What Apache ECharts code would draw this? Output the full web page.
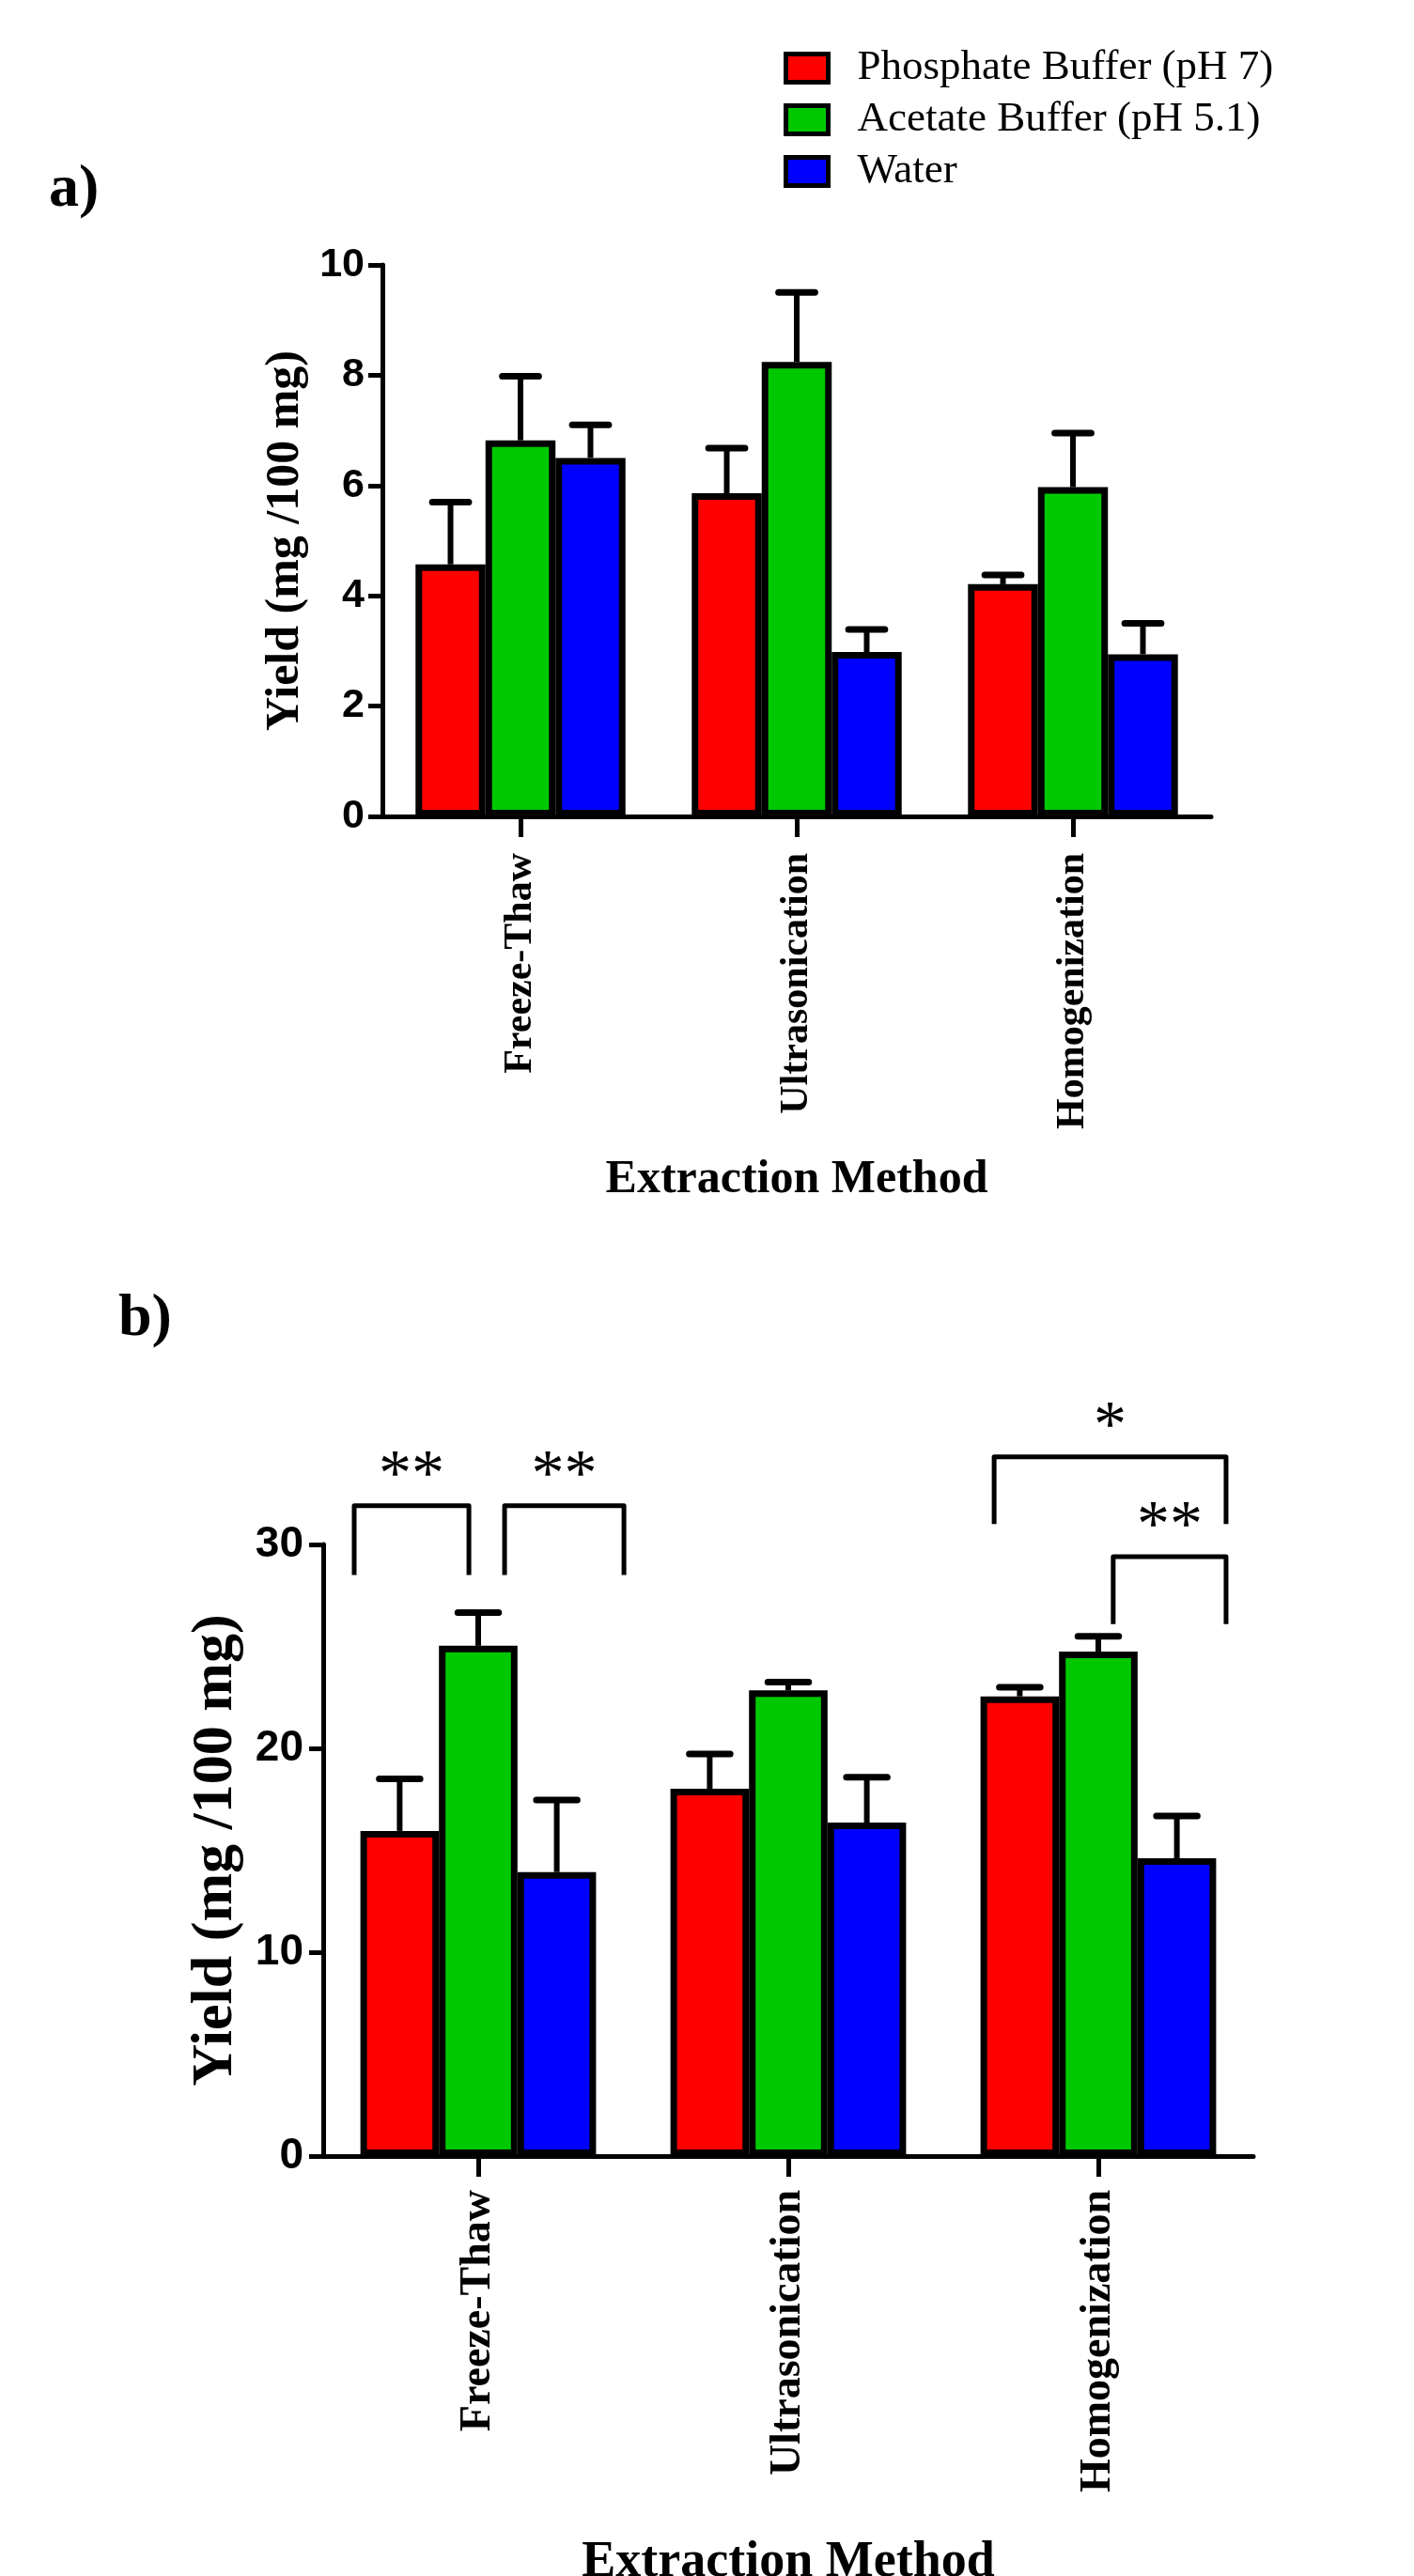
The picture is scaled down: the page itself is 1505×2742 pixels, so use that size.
<!DOCTYPE html>
<html>
<head>
<meta charset="utf-8">
<script src="https://cdn.jsdelivr.net/npm/echarts@6/dist/echarts.min.js"></script>
<style>
html,body{margin:0;padding:0;background:#fff;}
#chart{width:1505px;height:2742px;}
</style>
</head>
<body>
<div id="chart"></div>
<script>
// ---------- data ----------
const categories = ['Freeze-Thaw', 'Ultrasonication', 'Homogenization'];
const seriesNames = ['Phosphate Buffer (pH 7)', 'Acetate Buffer (pH 5.1)', 'Water'];

// panel a) means and upper error (SD)
const aPhosphate = [4.57, 5.86, 4.21];
const aAcetate = [6.82, 8.24, 5.97];
const aWater = [6.50, 2.98, 2.94];
const aPhosphateErr = [1.13, 0.82, 0.17];
const aAcetateErr = [1.16, 1.26, 0.98];
const aWaterErr = [0.60, 0.41, 0.56];

// panel b) means and upper error (SD)
const bPhosphate = [15.95, 18.02, 22.55];
const bAcetate = [25.03, 22.84, 24.75];
const bWater = [13.93, 16.36, 14.61];
const bPhosphateErr = [2.55, 1.70, 0.45];
const bAcetateErr = [1.63, 0.41, 0.75];
const bWaterErr = [3.53, 2.22, 2.07];

// y-axis ticks
const aTicks = {min: 0, max: 10, interval: 2};
const bTicks = {min: 0, max: 30, interval: 10};

// significance brackets in panel b (x in category units, y in data units)
const bracketX1 = [-0.40, 0.085, 1.664, 2.048];
const bracketX2 = [-0.03, 0.47, 2.412, 2.412];
const bracketTop = [31.9, 31.9, 34.3, 29.4];
const bracketBottom = [28.5, 28.5, 31.0, 26.1];
const bracketLabels = ['**', '**', '*', '**'];

// ---------- styling ----------
const colors = ['#ff0000', '#00c800', '#0000ff'];
const GAP = 0.24;
const serif = 'Liberation Serif';
const sans = 'Liberation Sans';

function barSeries(name, color, values, xIdx, yIdx) {
  return {
    name: name, type: 'bar', xAxisIndex: xIdx, yAxisIndex: yIdx,
    data: values, barGap: '0%', barCategoryGap: (GAP * 100) + '%',
    itemStyle: {color: color, borderColor: '#000', borderWidth: 7},
    z: 3, animation: false
  };
}

function errSeries(k, values, errs, xIdx, yIdx) {
  const data = values.map((v, i) => [i, v, v + errs[i]]);
  return {
    type: 'custom', xAxisIndex: xIdx, yAxisIndex: yIdx, data: data, z: 2,
    clip: false, animation: false, silent: true,
    renderItem: function (params, api) {
      const band = api.size([1, 0])[0];
      const bw = band * (1 - GAP) / 3;
      const base = api.coord([api.value(0), api.value(1)]);
      const top = api.coord([api.value(0), api.value(2)]);
      const x = base[0] + (k - 1) * bw;
      const cw = bw * 0.52;
      return {
        type: 'group', children: [
          {type: 'line', shape: {x1: x, y1: base[1], x2: x, y2: top[1]},
           style: {stroke: '#000', lineWidth: 6}},
          {type: 'line', shape: {x1: x - cw / 2, y1: top[1], x2: x + cw / 2, y2: top[1]},
           style: {stroke: '#000', lineWidth: 7, lineCap: 'round'}}
        ]
      };
    }
  };
}

function catAxis(gridIndex, fontSize, margin, nameGap, nameSize) {
  return {
    type: 'category', gridIndex: gridIndex, data: categories,
    boundaryGap: true,
    axisLine: {show: true, onZero: false, lineStyle: {color: '#000', width: 5}},
    axisTick: {show: true, alignWithLabel: true, length: 22, lineStyle: {color: '#000', width: 5}},
    axisLabel: {rotate: 90, interval: 0, margin: margin, color: '#000',
      fontFamily: serif, fontWeight: 'bold', fontSize: fontSize},
    splitLine: {show: false},
    name: 'Extraction Method', nameLocation: 'middle', nameGap: nameGap,
    nameTextStyle: {color: '#000', fontFamily: serif, fontWeight: 'bold', fontSize: nameSize}
  };
}
function hiddenX(gridIndex) {
  return {type: 'value', gridIndex: gridIndex, min: -0.5, max: 2.5, show: false,
    axisLine: {onZero: false}, splitLine: {show: false}};
}
function valAxis(gridIndex, t, labelSize, margin, nameGap, nameSize) {
  return {
    type: 'value', gridIndex: gridIndex, min: t.min, max: t.max, interval: t.interval,
    axisLine: {show: true, onZero: false, lineStyle: {color: '#000', width: 5}},
    axisTick: {show: true, length: 15, lineStyle: {color: '#000', width: 5}},
    axisLabel: {margin: margin, color: '#000', fontFamily: sans, fontWeight: 'bold', fontSize: labelSize},
    splitLine: {show: false},
    name: 'Yield (mg /100 mg)', nameLocation: 'middle', nameGap: nameGap,
    nameTextStyle: {color: '#000', fontFamily: serif, fontWeight: 'bold', fontSize: nameSize}
  };
}

const bracketData = bracketX1.map((x, i) => [x, bracketX2[i], bracketTop[i], bracketBottom[i]]);

const option = {
  backgroundColor: '#fff',
  animation: false,
  legend: {
    orient: 'vertical', left: 829, top: 45,
    data: seriesNames, icon: 'rect', itemWidth: 45, itemHeight: 30, itemGap: 10,
    itemStyle: {borderColor: '#000', borderWidth: 5},
    textStyle: {color: '#000', fontFamily: serif, fontSize: 45, lineHeight: 42, padding: [0, 0, 0, 26]},
    selectedMode: false
  },
  grid: [
    {left: 407, top: 282, width: 882, height: 587, outerBoundsMode: 'none', containLabel: false},
    {left: 344, top: 1644, width: 990, height: 651, outerBoundsMode: 'none', containLabel: false}
  ],
  xAxis: [
    catAxis(0, 42, 39, 362, 50),
    hiddenX(0),
    catAxis(1, 46, 36, 406, 54),
    hiddenX(1)
  ],
  yAxis: [
    valAxis(0, aTicks, 43, 19, 68, 50),
    valAxis(1, bTicks, 46, 21, 82, 62)
  ],
  graphic: [
    {type: 'text', left: 52, top: 170, style: {text: 'a)', fontFamily: serif, fontWeight: 'bold', fontSize: 64, fill: '#000'}},
    {type: 'text', left: 126, top: 1372, style: {text: 'b)', fontFamily: serif, fontWeight: 'bold', fontSize: 64, fill: '#000'}}
  ],
  series: [
    errSeries(0, aPhosphate, aPhosphateErr, 0, 0),
    errSeries(1, aAcetate, aAcetateErr, 0, 0),
    errSeries(2, aWater, aWaterErr, 0, 0),
    barSeries(seriesNames[0], colors[0], aPhosphate, 0, 0),
    barSeries(seriesNames[1], colors[1], aAcetate, 0, 0),
    barSeries(seriesNames[2], colors[2], aWater, 0, 0),
    errSeries(0, bPhosphate, bPhosphateErr, 2, 1),
    errSeries(1, bAcetate, bAcetateErr, 2, 1),
    errSeries(2, bWater, bWaterErr, 2, 1),
    barSeries(seriesNames[0], colors[0], bPhosphate, 2, 1),
    barSeries(seriesNames[1], colors[1], bAcetate, 2, 1),
    barSeries(seriesNames[2], colors[2], bWater, 2, 1),
    {
      type: 'custom', xAxisIndex: 3, yAxisIndex: 1, data: bracketData, clip: false,
      silent: true, z: 4,
      renderItem: function (params, api) {
        const x1 = api.value(0), x2 = api.value(1), yt = api.value(2), yb = api.value(3);
        const p1 = api.coord([x1, yb]);
        const p2 = api.coord([x1, yt]);
        const p3 = api.coord([x2, yt]);
        const p4 = api.coord([x2, yb]);
        return {
          type: 'group', children: [
            {type: 'polyline', shape: {points: [p1, p2, p3, p4]},
             style: {stroke: '#000', lineWidth: 5, fill: null, lineJoin: 'round'}},
            {type: 'text', x: (p2[0] + p3[0]) / 2, y: p2[1] - 30,
             style: {text: bracketLabels[params.dataIndex], fontFamily: serif, fontSize: 70,
               fill: '#000', align: 'center', verticalAlign: 'middle'}}
          ]
        };
      }
    }
  ]
};

const chart = echarts.init(document.getElementById('chart'), null, {renderer: 'canvas'});
chart.setOption(option);
</script>
</body>
</html>
